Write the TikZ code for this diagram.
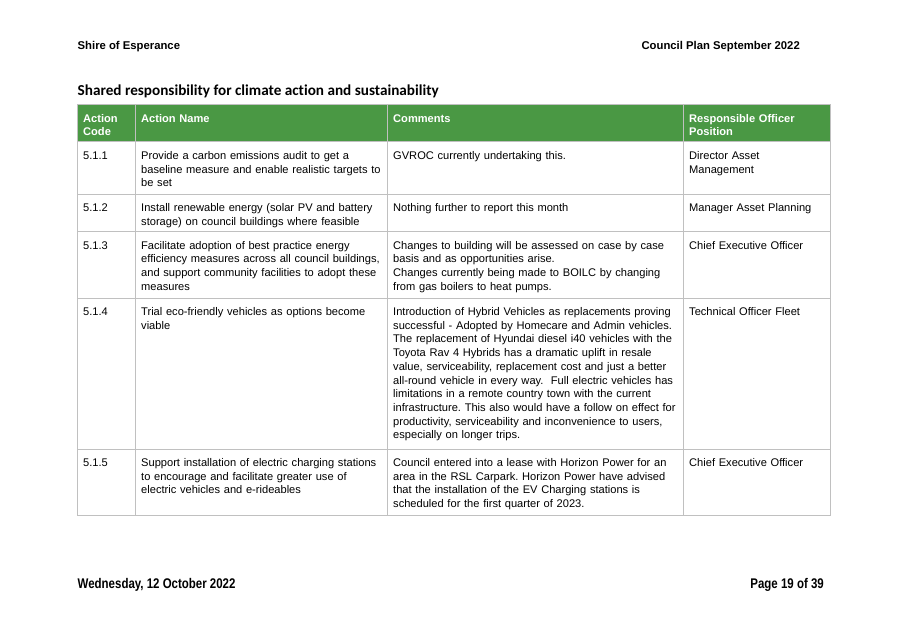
\documentclass[tikz,border=0pt]{standalone}
\usepackage{fontspec}
\setmainfont{Liberation Sans}
\newfontfamily\titlefont{Carlito}[Ligatures=CommonOff]
\newfontfamily\footfont{Liberation Sans}[FakeStretch=0.82]
\definecolor{hdrgreen}{RGB}{74,152,68}
\definecolor{gridgray}{RGB}{192,192,192}
\newcommand{\bodyfnt}{\fontsize{11.1}{13.7}\selectfont\frenchspacing}
\tikzset{
  cell/.style={anchor=base west, inner sep=0pt, align=left, font=\bodyfnt, text=black},
  hcell/.style={cell, font=\bodyfnt\bfseries, text=white},
  gridline/.style={draw=gridgray, line width=0.9pt},
  pagetext/.style={inner sep=0pt, font=\fontsize{11.3}{13.7}\selectfont\bfseries},
  footnode/.style={inner sep=0pt, font=\fontsize{14}{16}\selectfont\footfont\bfseries}
}
\begin{document}
\begin{tikzpicture}[x=1pt,y=-1pt]
\useasboundingbox (0,0) rectangle (907,641);
% page header
\node[pagetext, anchor=base west] (shire) at (77.5,49) {Shire of Esperance};
\node[pagetext, anchor=base east] (plan) at (800,49) {Council Plan September 2022};
% title
\node[inner sep=0pt, anchor=base west, font=\fontsize{15.2}{18}\selectfont\titlefont\bfseries] (title) at (77.5,95.5) {Shared responsibility for climate action and sustainability};
% header fill
\fill[hdrgreen] (77.5,104.3) rectangle (830,141.7);
% grid
\draw[gridline] (77.5,104.3) rectangle (830,515);
\foreach \yy in {141.7,194,231.7,298,449} \draw[gridline] (77.5,\yy) -- (830,\yy);
\foreach \xx in {135.7,387.3,683.3} \draw[gridline] (\xx,104.3) -- (\xx,515);
% header text
\node[hcell, text width=50] (h1) at (83,122) {Action\\Code};
\node[hcell, text width=240] (h2) at (141,122) {Action Name};
\node[hcell, text width=285] (h3) at (393,122) {Comments};
\node[hcell, text width=140] (h4) at (689,122) {Responsible Officer\\Position};
% row 1
\node[cell, text width=50] (c11) at (83,159.5) {5.1.1};
\node[cell, text width=250] (c12) at (141,159.5) {Provide a carbon emissions audit to get a\\baseline measure and enable realistic targets to\\be set};
\node[cell, text width=300] (c13) at (393,159.5) {GVROC currently undertaking this.};
\node[cell, text width=145] (c14) at (689,159.5) {Director Asset\\Management};
% row 2
\node[cell, text width=50] (c21) at (83,211.5) {5.1.2};
\node[cell, text width=250] (c22) at (141,211.5) {Install renewable energy (solar PV and battery\\storage) on council buildings where feasible};
\node[cell, text width=300] (c23) at (393,211.5) {Nothing further to report this month};
\node[cell, text width=145] (c24) at (689,211.5) {Manager Asset Planning};
% row 3
\node[cell, text width=50] (c31) at (83,249.2) {5.1.3};
\node[cell, text width=250] (c32) at (141,249.2) {Facilitate adoption of best practice energy\\efficiency measures across all council buildings,\\and support community facilities to adopt these\\measures};
\node[cell, text width=300] (c33) at (393,249.2) {Changes to building will be assessed on case by case\\basis and as opportunities arise.\\Changes currently being made to BOILC by changing\\from gas boilers to heat pumps.};
\node[cell, text width=145] (c34) at (689,249.2) {Chief Executive Officer};
% row 4
\node[cell, text width=50] (c41) at (83,315.5) {5.1.4};
\node[cell, text width=250] (c42) at (141,315.5) {Trial eco-friendly vehicles as options become\\viable};
\node[cell, text width=300] (c43) at (393,315.5) {Introduction of Hybrid Vehicles as replacements proving\\successful - Adopted by Homecare and Admin vehicles.\\The replacement of Hyundai diesel i40 vehicles with the\\Toyota Rav 4 Hybrids has a dramatic uplift in resale\\value, serviceability, replacement cost and just a better\\all-round vehicle in every way.~ Full electric vehicles has\\limitations in a remote country town with the current\\infrastructure. This also would have a follow on effect for\\productivity, serviceability and inconvenience to users,\\especially on longer trips.};
\node[cell, text width=145] (c44) at (689,315.5) {Technical Officer Fleet};
% row 5
\node[cell, text width=50] (c51) at (83,466.5) {5.1.5};
\node[cell, text width=250] (c52) at (141,466.5) {Support installation of electric charging stations\\to encourage and facilitate greater use of\\electric vehicles and e-rideables};
\node[cell, text width=300] (c53) at (393,466.5) {Council entered into a lease with Horizon Power for an\\area in the RSL Carpark. Horizon Power have advised\\that the installation of the EV Charging stations is\\scheduled for the first quarter of 2023.};
\node[cell, text width=145] (c54) at (689,466.5) {Chief Executive Officer};
% footer
\node[footnode, anchor=base west] (date) at (77.5,588) {Wednesday, 12 October 2022};
\node[footnode, anchor=base east] (page) at (824,588) {Page 19 of 39};
\end{tikzpicture}
\end{document}
